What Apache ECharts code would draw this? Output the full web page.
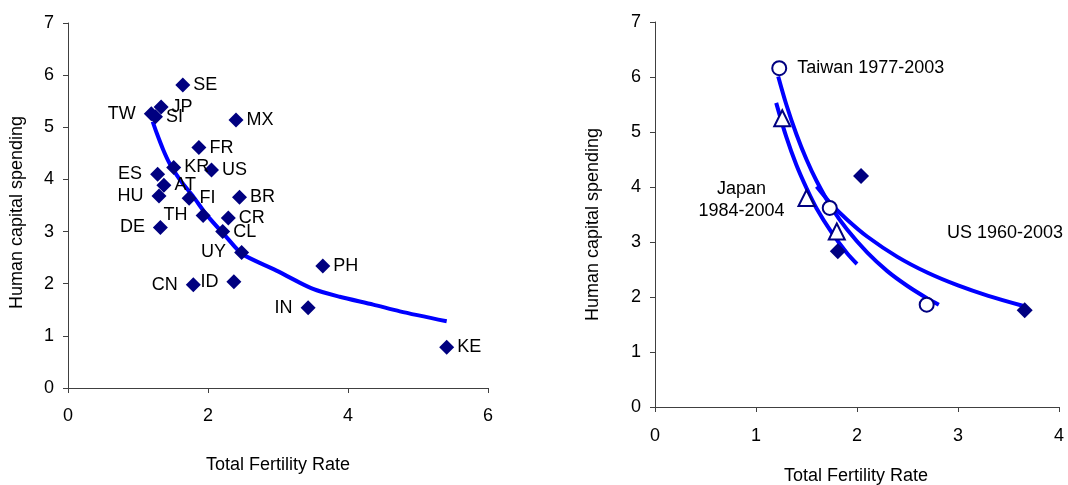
<!DOCTYPE html>
<html>
<head>
<meta charset="utf-8">
<script src="https://cdn.jsdelivr.net/npm/echarts@6/dist/echarts.min.js"></script>
<style>
  html, body { margin: 0; padding: 0; background: #fff; }
  #chart { width: 1068px; height: 485px; }
</style>
</head>
<body>
<div id="chart"></div>
<script>
// Cross-country panel: total fertility rate vs human capital spending
const countries = ['SE','JP','TW','SI','MX','FR','KR','US','ES','AT','HU','FI','BR','TH','CR','DE','CL','UY','PH','ID','CN','IN','KE'];
const countryTfr = [1.64,1.33,1.19,1.25,2.40,1.87,1.51,2.05,1.28,1.37,1.30,1.73,2.45,1.93,2.29,1.32,2.21,2.48,3.64,2.37,1.79,3.43,5.41];
const countryHcs = [5.81,5.39,5.26,5.20,5.14,4.61,4.23,4.18,4.10,3.89,3.68,3.64,3.66,3.31,3.26,3.08,3.00,2.60,2.34,2.04,1.98,1.54,0.78];

// Smoothed cross-country trend
const trendX = [1.21,1.27,1.36,1.45,1.60,1.79,1.98,2.26,2.49,2.95,3.50,3.88,4.36,4.74,5.41];
const trendY = [5.11,4.88,4.57,4.31,3.99,3.67,3.32,2.90,2.57,2.27,1.90,1.75,1.60,1.47,1.28];

// Time-series panel: observations
const taiwanTfr = [1.23,1.73,2.69];
const taiwanHcs = [6.16,3.62,1.86];
const japanTfr = [1.26,1.50,1.80];
const japanHcs = [5.25,3.80,3.19];
const usTfr = [2.04,1.81,3.66];
const usHcs = [4.20,2.83,1.76];

// Fitted curves
const taiwanCurveX = [1.22,1.30,1.40,1.50,1.60,1.75,1.90,2.10,2.30,2.50,2.70,2.81];
const taiwanCurveY = [6.01,5.50,4.96,4.50,4.11,3.62,3.23,2.81,2.47,2.20,1.97,1.86];
const japanCurveX = [1.20,1.30,1.40,1.50,1.60,1.75,1.90,2.00];
const japanCurveY = [5.53,4.91,4.40,3.98,3.61,3.17,2.80,2.60];
const usCurveX = [1.60,1.75,1.90,2.10,2.40,2.70,3.00,3.30,3.64];
const usCurveY = [4.01,3.68,3.41,3.10,2.73,2.44,2.21,2.02,1.84];

const yTicks = [0,1,2,3,4,5,6,7];

const FONT = "'Liberation Sans', Arial, sans-serif";
const NAVY = '#000080';
const BLUE = '#0000ff';
const AXIS = '#404040';

// Country codes whose label sits to the left of the marker
const labelLeft = new Set(['TW','ES','HU','TH','DE','UY','CN','ID','IN']);

const pairs = (xs, ys) => xs.map((x, i) => [x, ys[i]]);

function valueAxis(gridIndex, max, interval, margin) {
  return {
    type: 'value', gridIndex, min: 0, max, interval,
    axisLine: { show: true, lineStyle: { color: AXIS, width: 1 } },
    axisTick: { show: true, length: 5, lineStyle: { color: AXIS } },
    splitLine: { show: false },
    axisLabel: { color: '#000', fontFamily: FONT, fontSize: 18, margin }
  };
}

const chart = echarts.init(document.getElementById('chart'), null, { renderer: 'canvas' });

const countryData = countries.map((c, i) => ({
  name: c,
  value: [countryTfr[i], countryHcs[i]],
  label: labelLeft.has(c) ? { position: 'left', distance: 8 } : { position: 'right', distance: 3 }
}));

const lineStyle = { color: BLUE, width: 4 };
const textStyle = (text, extra) => Object.assign({ text, font: `18px ${FONT}`, fill: '#000', textAlign: 'center', textVerticalAlign: 'middle' }, extra || {});

chart.setOption({
  animation: false,
  backgroundColor: '#fff',
  grid: [
    { left: 68, top: 23, width: 420, height: 365 },
    { left: 655, top: 22, width: 404, height: 385 }
  ],
  xAxis: [
    valueAxis(0, 6, 2, 19),
    valueAxis(1, 4, 1, 20)
  ],
  yAxis: [
    valueAxis(0, yTicks[yTicks.length - 1], 1, 14),
    valueAxis(1, yTicks[yTicks.length - 1], 1, 14)
  ],
  graphic: [
    { type: 'text', x: 17.5, y: 212.5, rotation: Math.PI / 2, style: textStyle('Human capital spending') },
    { type: 'text', x: 593.3, y: 224.5, rotation: Math.PI / 2, style: textStyle('Human capital spending') },
    { type: 'text', x: 278, y: 465, style: textStyle('Total Fertility Rate') },
    { type: 'text', x: 856, y: 476, style: textStyle('Total Fertility Rate') },
    { type: 'text', x: 741.5, y: 200, style: textStyle('Japan\n1984-2004', { lineHeight: 22 }) },
    { type: 'text', x: 947, y: 233.5, style: textStyle('US 1960-2003', { textAlign: 'left' }) }
  ],
  series: [
    {
      type: 'line', xAxisIndex: 0, yAxisIndex: 0, smooth: 0.25, symbol: 'none',
      data: pairs(trendX, trendY), lineStyle, z: 1
    },
    {
      type: 'scatter', xAxisIndex: 0, yAxisIndex: 0, symbol: 'diamond', symbolSize: 15,
      itemStyle: { color: NAVY, opacity: 1 },
      label: { show: true, formatter: '{b}', color: '#000', fontFamily: FONT, fontSize: 18 },
      data: countryData, z: 3
    },
    {
      type: 'line', xAxisIndex: 1, yAxisIndex: 1, smooth: 0.3, symbol: 'none',
      data: pairs(taiwanCurveX, taiwanCurveY), lineStyle, z: 1
    },
    {
      type: 'line', xAxisIndex: 1, yAxisIndex: 1, smooth: 0.3, symbol: 'none',
      data: pairs(japanCurveX, japanCurveY), lineStyle, z: 1
    },
    {
      type: 'line', xAxisIndex: 1, yAxisIndex: 1, smooth: 0.3, symbol: 'none',
      data: pairs(usCurveX, usCurveY), lineStyle, z: 1
    },
    {
      type: 'scatter', xAxisIndex: 1, yAxisIndex: 1, symbol: 'diamond', symbolSize: 16,
      itemStyle: { color: NAVY, opacity: 1 }, data: pairs(usTfr, usHcs), z: 3
    },
    {
      type: 'scatter', xAxisIndex: 1, yAxisIndex: 1, symbol: 'triangle', symbolSize: 16,
      itemStyle: { color: '#fff', borderColor: NAVY, borderWidth: 2, opacity: 1 },
      data: pairs(japanTfr, japanHcs), z: 3
    },
    {
      type: 'scatter', xAxisIndex: 1, yAxisIndex: 1, symbol: 'circle', symbolSize: 14,
      itemStyle: { color: '#fff', borderColor: NAVY, borderWidth: 2, opacity: 1 },
      data: pairs(taiwanTfr, taiwanHcs).map((v, i) => i === 0
        ? { value: v, label: { show: true, position: 'right', distance: 10, formatter: 'Taiwan 1977-2003',
            color: '#000', fontFamily: FONT, fontSize: 18 } }
        : { value: v }),
      z: 3
    }
  ]
});
</script>
</body>
</html>
